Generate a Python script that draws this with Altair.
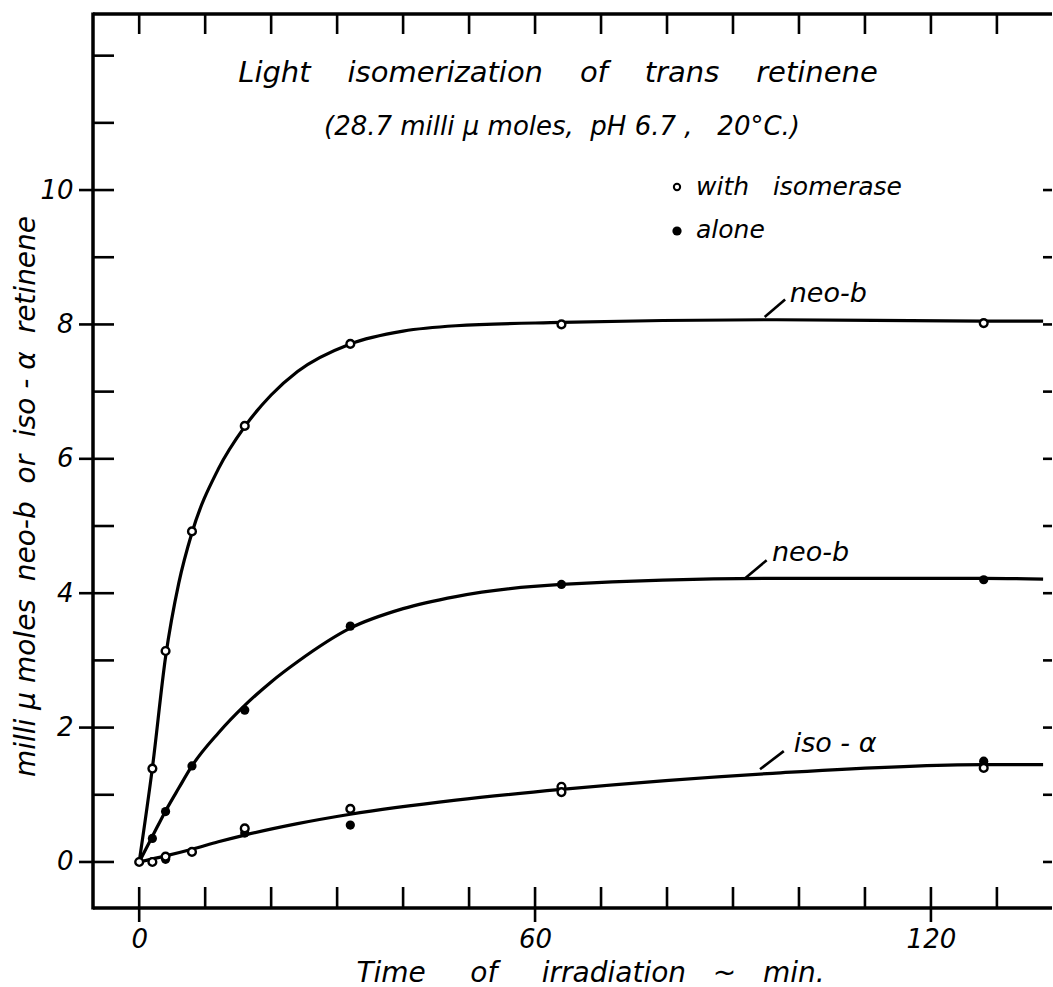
import altair as alt
import pandas as pd

# ---- data ----
t_with = [0, 2, 4, 8, 16, 32, 64, 128]
neo_with = [0.0, 1.39, 3.14, 4.92, 6.49, 7.71, 8.00, 8.02]
t_alone = [2, 4, 8, 16, 32, 64, 128]
neo_alone = [0.35, 0.75, 1.43, 2.26, 3.51, 4.13, 4.20]
iso_with_t = [2, 4, 8, 16, 32, 64, 64, 128]
iso_with = [0.0, 0.08, 0.15, 0.50, 0.79, 1.12, 1.04, 1.40]
iso_alone_t = [4, 16, 32, 128]
iso_alone = [0.04, 0.43, 0.55, 1.50]

# fitted curves as drawn in the figure
curve_neo_with_t = [0, 2, 4, 6, 8, 12, 16, 20, 24, 32, 40, 48, 64, 96, 128, 137]
curve_neo_with = [0.0, 1.40, 3.05, 4.15, 4.90, 5.85, 6.48, 6.95, 7.30, 7.71, 7.90, 7.98, 8.03, 8.07, 8.05, 8.05]
curve_neo_alone_t = [0, 2, 4, 6, 8, 12, 16, 20, 24, 32, 40, 48, 64, 96, 128, 137]
curve_neo_alone = [0.0, 0.38, 0.76, 1.10, 1.43, 1.92, 2.33, 2.68, 2.98, 3.48, 3.77, 3.95, 4.13, 4.22, 4.22, 4.21]
curve_iso_t = [0, 4, 8, 12, 16, 24, 32, 48, 64, 96, 128, 137]
curve_iso = [0.0, 0.09, 0.19, 0.30, 0.40, 0.57, 0.71, 0.92, 1.08, 1.32, 1.45, 1.45]

x_ticks = list(range(0, 140, 10))
x_major = [0, 60, 120]
y_ticks_left = list(range(0, 13))
y_major = [0, 2, 4, 6, 8, 10]
y_ticks_right = list(range(0, 11))

FONT = "DejaVu Sans"
W, H = 959, 894

xs = alt.Scale(domain=[-7.0, 138.35], nice=False, zero=False)
ys = alt.Scale(domain=[-0.685, 12.62], nice=False, zero=False)

curves = pd.concat([
    pd.DataFrame({"t": curve_neo_with_t, "v": curve_neo_with, "c": "neo_with"}),
    pd.DataFrame({"t": curve_neo_alone_t, "v": curve_neo_alone, "c": "neo_alone"}),
    pd.DataFrame({"t": curve_iso_t, "v": curve_iso, "c": "iso"}),
])
open_pts = pd.concat([
    pd.DataFrame({"t": t_with, "v": neo_with}),
    pd.DataFrame({"t": iso_with_t, "v": iso_with}),
])
filled_pts = pd.concat([
    pd.DataFrame({"t": t_alone, "v": neo_alone}),
    pd.DataFrame({"t": iso_alone_t, "v": iso_alone}),
])

NB = "\u00a0"

x_axis = alt.Axis(values=x_major, domain=False, ticks=False, tickSize=0, grid=False,
                  labelFont=FONT, labelFontStyle="italic", labelFontSize=26, labelColor="black",
                  labelPadding=18,
                  title=f"Time{NB*5}of{NB*5}irradiation{NB*3}~{NB*3}min.",
                  titleFont=FONT, titleFontStyle="italic", titleFontWeight="normal", titleFontSize=28,
                  titleColor="black", titleX=497, titleY=65, titleAlign="center", titleBaseline="middle")
y_axis = alt.Axis(values=y_major, domain=False, ticks=False, tickSize=0, grid=False, format="d",
                  labelFont=FONT, labelFontStyle="italic", labelFontSize=26, labelColor="black",
                  labelPadding=20,
                  title=f"milli{NB}\u03bc{NB}moles{NB*2}neo-b{NB*2}or{NB*2}iso{NB}-{NB}\u03b1{NB*2}retinene",
                  titleFont=FONT, titleFontStyle="italic", titleFontWeight="normal", titleFontSize=28,
                  titleColor="black", titleX=-67, titleY=482, titleAngle=270, titleAlign="center",
                  titleBaseline="middle")


def X(f="t"):
    return alt.X(f, type="quantitative", scale=xs, axis=x_axis)


def Y(f="v"):
    return alt.Y(f, type="quantitative", scale=ys, axis=y_axis)


line_layer = alt.Chart(curves).mark_line(interpolate="monotone", color="black", strokeWidth=3.2).encode(
    x=X(), y=Y(), detail="c:N")
filled_layer = alt.Chart(filled_pts).mark_circle(color="black", size=85, opacity=1).encode(x=X(), y=Y())
open_layer = alt.Chart(open_pts).mark_point(shape="circle", fill="white", stroke="black", strokeWidth=2.4,
                                            size=60, opacity=1, fillOpacity=1).encode(x=X(), y=Y())

one = pd.DataFrame({"a": [0]})

# frame
frame = [
    alt.Chart(one).mark_rule(color="black", strokeWidth=3.5).encode(
        x=alt.value(0), x2=alt.value(W), y=alt.value(0)),
    alt.Chart(one).mark_rule(color="black", strokeWidth=3.5).encode(
        x=alt.value(0), x2=alt.value(W), y=alt.value(H)),
    alt.Chart(one).mark_rule(color="black", strokeWidth=3.5).encode(
        x=alt.value(0), y=alt.value(-1.5), y2=alt.value(H + 1.5)),
]

xt = pd.DataFrame({"t": x_ticks})
xm = pd.DataFrame({"t": x_major})
ytl = pd.DataFrame({"v": y_ticks_left})
ym = pd.DataFrame({"v": y_major})
ytr = pd.DataFrame({"v": y_ticks_right})
tick_layers = [
    alt.Chart(xt).mark_rule(color="black", strokeWidth=2.6).encode(x=X(), y=alt.value(H - 21), y2=alt.value(H)),
    alt.Chart(xm).mark_rule(color="black", strokeWidth=2.6).encode(x=X(), y=alt.value(H), y2=alt.value(H + 14)),
    alt.Chart(xt).mark_rule(color="black", strokeWidth=2.6).encode(x=X(), y=alt.value(0), y2=alt.value(20)),
    alt.Chart(ytl).mark_rule(color="black", strokeWidth=2.6).encode(y=Y(), x=alt.value(0), x2=alt.value(21)),
    alt.Chart(ym).mark_rule(color="black", strokeWidth=2.6).encode(y=Y(), x=alt.value(-14), x2=alt.value(0)),
    alt.Chart(ytr).mark_rule(color="black", strokeWidth=2.6).encode(y=Y(), x=alt.value(W - 9), x2=alt.value(W)),
]


def txt(s, x, y, size, align="center"):
    return alt.Chart(one).mark_text(text=s, font=FONT, fontStyle="italic", fontSize=size, color="black",
                                    align=align, baseline="middle").encode(x=alt.value(x), y=alt.value(y))


annot = [
    txt(f"Light{NB*4}isomerization{NB*4}of{NB*4}trans{NB*4}retinene", 465, 59, 29),
    txt(f"(28.7{NB}milli{NB}\u03bc{NB}moles,{NB*2}pH{NB}6.7{NB},{NB*3}20\u00b0C.)", 469, 113, 26),
    txt(f"with{NB*3}isomerase", 603, 173, 25, "left"),
    txt("alone", 603, 216, 25, "left"),
    alt.Chart(one).mark_point(shape="circle", fill="white", stroke="black", strokeWidth=2, size=40, opacity=1).encode(
        x=alt.value(584), y=alt.value(173)),
    alt.Chart(one).mark_circle(color="black", size=85, opacity=1).encode(x=alt.value(584), y=alt.value(217)),
]


def curve_label(s, tx, ty, x1, y1, x2, y2):
    t = alt.Chart(one).mark_text(text=s, font=FONT, fontStyle="italic", fontSize=27, color="black",
                                 align="left", baseline="middle").encode(
        x=alt.X(datum=tx, scale=xs, axis=x_axis), y=alt.Y(datum=ty, scale=ys, axis=y_axis))
    r = alt.Chart(one).mark_rule(color="black", strokeWidth=2.6).encode(
        x=alt.X(datum=x1, scale=xs, axis=x_axis), y=alt.Y(datum=y1, scale=ys, axis=y_axis),
        x2=alt.X2(datum=x2), y2=alt.Y2(datum=y2))
    return [t, r]


labels = (curve_label("neo-b", 98.6, 8.45, 94.8, 8.11, 97.9, 8.37)
          + curve_label("neo-b", 95.9, 4.60, 91.8, 4.22, 95.1, 4.49)
          + curve_label(f"iso{NB}-{NB}\u03b1", 99.2, 1.75, 94.1, 1.38, 97.7, 1.65))

chart = alt.layer(line_layer, filled_layer, open_layer, *frame, *tick_layers, *annot, *labels).properties(
    width=W, height=H,
    padding={"left": 93, "top": 14, "right": 1, "bottom": 79},
    autosize=alt.AutoSizeParams(type="none"),
    background="white",
).configure_view(stroke=None)

chart.save("out.html", embed_options={"renderer": "svg", "actions": False})
